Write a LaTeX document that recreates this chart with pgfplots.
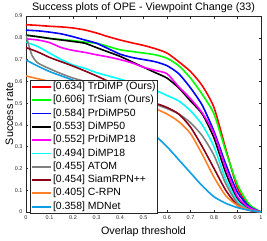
\documentclass[border=0pt]{standalone}
\usepackage{pgfplots}
\pgfplotsset{compat=1.18}
\usepackage{fontspec}
\setmainfont{Liberation Sans}
\definecolor{axgray}{rgb}{0.15,0.15,0.15}
\definecolor{cRed}{rgb}{1,0,0}
\definecolor{cGreen}{rgb}{0,1,0}
\definecolor{cBlue}{rgb}{0,0,1}
\definecolor{cBlack}{rgb}{0,0,0}
\definecolor{cMag}{rgb}{1,0,1}
\definecolor{cCyan}{rgb}{0,1,1}
\definecolor{cGray}{rgb}{0.5,0.5,0.5}
\definecolor{cMaroon}{rgb}{0.55,0,0.1}
\definecolor{cOrange}{rgb}{1,0.5,0.15}
\definecolor{cLBlue}{rgb}{0.05,0.62,0.9}
\begin{document}
\begin{tikzpicture}
\useasboundingbox (-26bp,-29bp) rectangle (241bp,212bp);
\begin{axis}[
  scale only axis, width=235bp, height=196bp,
  at={(0,0)}, anchor=south west,
  xmin=0, xmax=1, ymin=0, ymax=0.9,
  xtick={0,0.1,0.2,0.3,0.4,0.5,0.6,0.7,0.8,0.9,1},
  ytick={0,0.1,0.2,0.3,0.4,0.5,0.6,0.7,0.8,0.9},
  tick align=inside, major tick length=2.5bp,
  axis line style={axgray, line width=0.5bp},
  every tick/.style={axgray, line width=0.5bp},
  /pgf/number format/assume math mode=true,
  tick label style={font=\fontsize{5.5}{6}\selectfont, text=axgray},
  xticklabel style={yshift=-0.5bp},
  title={Success plots of OPE - Viewpoint Change (33)},
  every axis title/.style={font=\fontsize{10.8}{12}\selectfont, anchor=base, at={(rel axis cs:0.5,1)}, yshift=6bp},
  xlabel={Overlap threshold},
  every axis x label/.style={font=\fontsize{10.8}{12}\selectfont, anchor=base, at={(rel axis cs:0.5,0)}, yshift=-22bp},
  ylabel={Success rate},
  every axis y label/.style={font=\fontsize{10.8}{12}\selectfont, anchor=base, rotate=90, at={(axis description cs:-0.0553,0.5)}},
  legend style={at={(axis cs:0.017,0.607)}, anchor=north west,
    draw=axgray, line width=0.5bp, inner xsep=1bp, inner ysep=1bp, row sep=1.5bp, fill=white,
    nodes={font=\fontsize{10.5}{12}\selectfont, inner sep=1bp, text height=7.5bp, text depth=2.3bp}},
  legend cell align=left,
  legend image code/.code={\draw[#1, sharp plot, line width=1.8bp] (0bp,0bp) -- (19bp,0bp);},
]
\addplot[cRed, line width=1.6bp, smooth, tension=0.4] coordinates {(0,0.86)(0.05,0.857)(0.1,0.853)(0.15,0.85)(0.2,0.845)(0.25,0.836)(0.3,0.822)(0.35,0.805)(0.4,0.79)(0.45,0.777)(0.5,0.765)(0.55,0.75)(0.6,0.73)(0.65,0.69)(0.7,0.645)(0.75,0.58)(0.8,0.48)(0.85,0.29)(0.9,0.11)(0.95,0.03)(1,0)};
\addlegendentry{[0.634] TrDiMP (Ours)}
\addplot[cGreen, line width=1.6bp, smooth, tension=0.4] coordinates {(0,0.812)(0.05,0.805)(0.1,0.797)(0.15,0.792)(0.2,0.787)(0.25,0.78)(0.3,0.775)(0.35,0.76)(0.4,0.745)(0.45,0.737)(0.5,0.73)(0.55,0.722)(0.6,0.706)(0.65,0.672)(0.7,0.615)(0.75,0.54)(0.8,0.45)(0.85,0.28)(0.9,0.125)(0.95,0.035)(1,0)};
\addlegendentry{[0.606] TrSiam (Ours)}
\addplot[cBlue, line width=1.6bp, smooth, tension=0.4] coordinates {(0,0.835)(0.05,0.832)(0.1,0.826)(0.15,0.818)(0.2,0.805)(0.25,0.79)(0.3,0.775)(0.35,0.75)(0.4,0.725)(0.45,0.71)(0.5,0.7)(0.55,0.69)(0.6,0.672)(0.65,0.635)(0.7,0.57)(0.75,0.49)(0.8,0.37)(0.85,0.22)(0.9,0.09)(0.95,0.025)(1,0)};
\addlegendentry{[0.584] PrDiMP50}
\addplot[cBlack, line width=1.6bp, smooth, tension=0.4] coordinates {(0,0.812)(0.05,0.805)(0.1,0.797)(0.15,0.79)(0.2,0.783)(0.25,0.775)(0.3,0.755)(0.35,0.735)(0.4,0.715)(0.45,0.69)(0.5,0.665)(0.55,0.64)(0.6,0.615)(0.65,0.57)(0.7,0.51)(0.75,0.45)(0.8,0.34)(0.85,0.18)(0.9,0.06)(0.95,0.015)(1,0)};
\addlegendentry{[0.553] DiMP50}
\addplot[cMag, line width=1.6bp, smooth, tension=0.4] coordinates {(0,0.795)(0.05,0.79)(0.1,0.778)(0.15,0.755)(0.2,0.742)(0.25,0.733)(0.3,0.722)(0.35,0.712)(0.4,0.7)(0.45,0.685)(0.5,0.665)(0.55,0.65)(0.6,0.635)(0.65,0.575)(0.7,0.52)(0.75,0.455)(0.8,0.36)(0.85,0.2)(0.9,0.07)(0.95,0.02)(1,0)};
\addlegendentry{[0.552] PrDiMP18}
\addplot[cCyan, line width=1.6bp, smooth, tension=0.4] coordinates {(0,0.78)(0.05,0.76)(0.1,0.73)(0.15,0.7)(0.2,0.675)(0.25,0.66)(0.3,0.64)(0.35,0.625)(0.4,0.61)(0.45,0.595)(0.5,0.58)(0.55,0.56)(0.6,0.535)(0.65,0.51)(0.7,0.465)(0.75,0.4)(0.8,0.3)(0.85,0.15)(0.9,0.05)(0.95,0.01)(1,0)};
\addlegendentry{[0.494] DiMP18}
\addplot[cGray, line width=1.6bp, smooth, tension=0.4] coordinates {(0,0.81)(0.025,0.72)(0.05,0.685)(0.1,0.658)(0.15,0.635)(0.2,0.615)(0.25,0.6)(0.3,0.585)(0.35,0.57)(0.4,0.555)(0.45,0.535)(0.5,0.515)(0.55,0.495)(0.6,0.475)(0.65,0.45)(0.7,0.41)(0.75,0.35)(0.8,0.26)(0.85,0.13)(0.9,0.04)(0.95,0.01)(1,0)};
\addlegendentry{[0.455] ATOM}
\addplot[cMaroon, line width=1.6bp, smooth, tension=0.4] coordinates {(0,0.755)(0.05,0.735)(0.1,0.71)(0.15,0.69)(0.2,0.67)(0.25,0.648)(0.3,0.625)(0.35,0.6)(0.4,0.575)(0.45,0.545)(0.5,0.52)(0.55,0.5)(0.6,0.48)(0.65,0.45)(0.7,0.39)(0.75,0.3)(0.8,0.2)(0.85,0.1)(0.9,0.03)(0.95,0.008)(1,0)};
\addlegendentry{[0.454] SiamRPN++}
\addplot[cOrange, line width=1.6bp, smooth, tension=0.4] coordinates {(0,0.625)(0.05,0.612)(0.1,0.6)(0.15,0.59)(0.2,0.58)(0.25,0.57)(0.3,0.56)(0.35,0.545)(0.4,0.53)(0.45,0.515)(0.5,0.5)(0.55,0.475)(0.6,0.45)(0.65,0.415)(0.7,0.36)(0.75,0.265)(0.8,0.16)(0.85,0.075)(0.9,0.03)(0.95,0.01)(1,0)};
\addlegendentry{[0.405] C-RPN}
\addplot[cLBlue, line width=1.6bp, smooth, tension=0.4] coordinates {(0,0.698)(0.05,0.67)(0.1,0.645)(0.15,0.625)(0.2,0.605)(0.25,0.58)(0.3,0.55)(0.35,0.52)(0.4,0.48)(0.45,0.435)(0.5,0.39)(0.55,0.35)(0.6,0.3)(0.65,0.24)(0.7,0.18)(0.75,0.12)(0.8,0.07)(0.85,0.04)(0.9,0.02)(0.95,0.008)(1,0)};
\addlegendentry{[0.358] MDNet}
\end{axis}
\end{tikzpicture}
\end{document}
